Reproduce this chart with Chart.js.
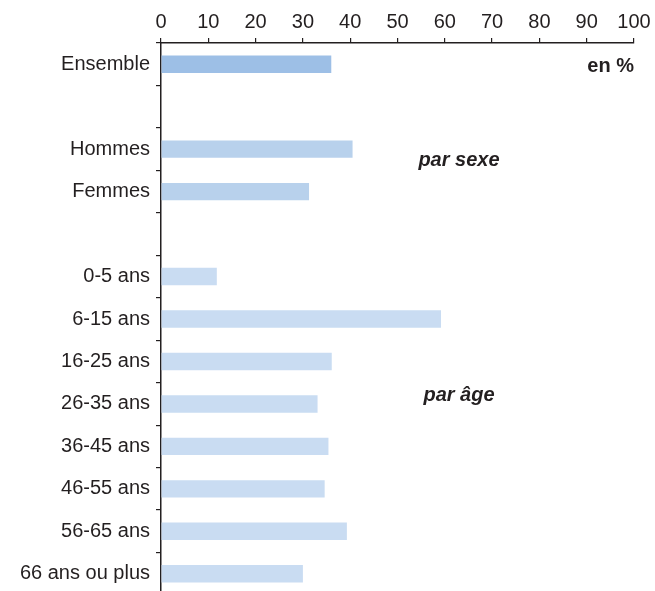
<!DOCTYPE html>
<html>
<head>
<meta charset="utf-8">
<script src="https://cdn.jsdelivr.net/npm/chart.js@4"></script>
<style>
  html, body { margin: 0; padding: 0; background: #fff; overflow: hidden; }
  #wrap { width: 655px; height: 591px; overflow: hidden; }
</style>
</head>
<body>
<div id="wrap"><canvas id="myChart" width="655" height="595"></canvas></div>
<script>
const categories = ['Ensemble', '', 'Hommes', 'Femmes', '', '0-5 ans', '6-15 ans', '16-25 ans',
  '26-35 ans', '36-45 ans', '46-55 ans', '56-65 ans', '66 ans ou plus'];
const values = [36, null, 40.5, 31.3, null, 11.8, 59.2, 36.1, 33.1, 35.4, 34.6, 39.3, 30.0];
const barColors = ['#9dbfe6', null, '#b8d1ec', '#b8d1ec', null, '#c9dcf2', '#c9dcf2', '#c9dcf2',
  '#c9dcf2', '#c9dcf2', '#c9dcf2', '#c9dcf2', '#c9dcf2'];
const xTicks = [0, 10, 20, 30, 40, 50, 60, 70, 80, 90, 100];

// annotations: text, x value, y index (fractional)
const notes = [
  { text: 'en %', x: 100, y: 0.05, align: 'right', font: 'bold 20px "Liberation Sans", Arial, sans-serif' },
  { text: 'par sexe', x: 63, y: 2.27, align: 'center', font: 'italic bold 20px "Liberation Sans", Arial, sans-serif' },
  { text: 'par âge', x: 63, y: 7.8, align: 'center', font: 'italic bold 20px "Liberation Sans", Arial, sans-serif' }
];

const ink = '#231f20';
const fontFam = '"Liberation Sans", Arial, sans-serif';

const notePlugin = {
  id: 'notes',
  afterDatasetsDraw(chart) {
    const ctx = chart.ctx;
    const xs = chart.scales.x, ys = chart.scales.y;
    ctx.save();
    ctx.fillStyle = ink;
    ctx.textBaseline = 'middle';
    for (const n of notes) {
      ctx.font = n.font;
      ctx.textAlign = n.align;
      ctx.fillText(n.text, xs.getPixelForValue(n.x), ys.getPixelForValue(n.y));
    }
    ctx.restore();
  }
};

const myChart = new Chart('myChart', {
  type: 'bar',
  data: {
    labels: categories,
    datasets: [{
      data: values,
      backgroundColor: barColors,
      barPercentage: 0.41,
      categoryPercentage: 1
    }]
  },
  options: {
    indexAxis: 'y',
    responsive: false,
    animation: false,
    layout: { padding: { top: 0, right: 21, bottom: 0, left: 0 } },
    plugins: { legend: { display: false }, tooltip: { enabled: false } },
    scales: {
      x: {
        position: 'top',
        min: 0, max: 100,
        afterBuildTicks(scale) { scale.ticks = xTicks.map(v => ({ value: v })); },
        afterFit(scale) { scale.height = 43; scale.paddingLeft = 0; },
        border: { color: ink, width: 1.5 },
        grid: { drawOnChartArea: false, color: ink, tickLength: 5, lineWidth: 1.2 },
        ticks: { color: ink, font: { family: fontFam, size: 20 }, padding: 4, maxRotation: 0 }
      },
      y: {
        afterFit(scale) { scale.width = 161; scale.paddingTop = 0; scale.paddingBottom = 0; },
        border: { color: ink, width: 1.5 },
        grid: { drawOnChartArea: false, color: ink, tickLength: 5, lineWidth: 1.2, offset: true },
        ticks: { color: ink, font: { family: fontFam, size: 20 }, padding: 6, autoSkip: false }
      }
    }
  },
  plugins: [notePlugin]
});
</script>
</body>
</html>
